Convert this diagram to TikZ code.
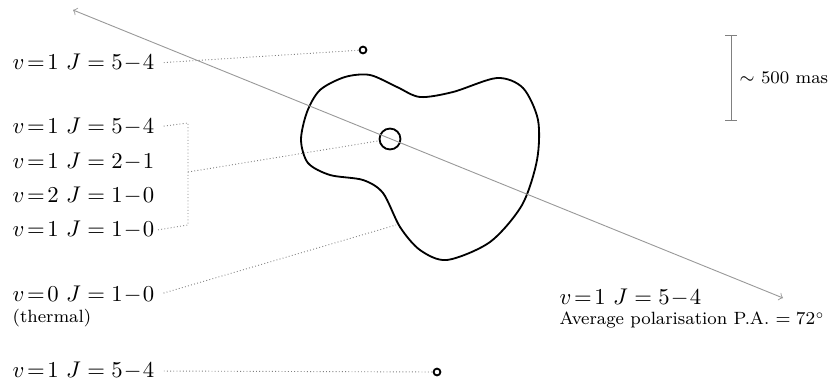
\documentclass[tikz,border=0pt]{standalone}
\usetikzlibrary{positioning}

\begin{document}
\begin{tikzpicture}[x=0.44pt, y=-0.44pt,
    trans/.style={anchor=west, inner sep=1pt},
    note/.style={anchor=north west, inner sep=1pt, font=\fontsize{7.8}{9}\selectfont},
    link/.style={draw=gray, densely dotted, shorten <=3pt},
    spot/.style={draw, circle, thick, inner sep=0pt, minimum size=3pt},
    axis/.style={draw=gray!80, <->}
]
    \useasboundingbox (0,0) rectangle (832,385);

    % masing core and envelope
    \node[draw, circle, thick, inner sep=0pt, minimum size=9.2pt] (core) at (390,139) {};
    \draw[thick] plot[smooth cycle] coordinates {(301,140) (307,112) (320,90) (345,77) (370,75)
        (397,87) (420,97) (453,92) (497,78) (523,88) (538,120) (537,160) (522,205) (490,242)
        (447,260) (420,250) (400,227) (383,193) (363,180) (330,175) (308,163)};
    \coordinate (envSW) at (396,225);

    % polarisation axis
    \coordinate (paNW) at (73,10);
    \coordinate (paSE) at (783,298);
    \draw[axis] (paNW) -- (paSE);

    % scale bar
    \coordinate (barTop) at (731,35);
    \coordinate (barBot) at (731,121);
    \draw[gray, |-|] (barTop) -- (barBot);
    \node[note, anchor=west] (scale) at (737,78) {$\sim$ 500 mas};

    % spots
    \node[spot] (spotNE) at (363,50) {};
    \node[spot] (spotS) at (437,372) {};

    % line labels
    \node[trans] (vtop) at (10,63) {$v\!=\!1\ J=5\!-\!4$};
    \node[trans] (gA) at (10,127) {$v\!=\!1\ J=5\!-\!4$};
    \node[trans] (gB) at (10,162) {$v\!=\!1\ J=2\!-\!1$};
    \node[trans] (gC) at (10,196) {$v\!=\!2\ J=1\!-\!0$};
    \node[trans] (gD) at (10,230) {$v\!=\!1\ J=1\!-\!0$};
    \node[trans] (vzero) at (10,295) {$v\!=\!0\ J=1\!-\!0$};
    \node[note] (thermal) at (vzero.south west) {(thermal)};
    \node[trans] (vbot) at (10,371) {$v\!=\!1\ J=5\!-\!4$};
    \node[trans] (vpa) at (557,298) {$v\!=\!1\ J=5\!-\!4$};
    \node[note] (pa) at (vpa.south west) {Average polarisation P.A. $=72^\circ$};

    % connectors
    \coordinate (brTop) at (188,123);
    \coordinate (brBot) at (188,225);
    \coordinate (brMid) at (188,172);
    \draw[link] (vtop.east) -- (spotNE);
    \draw[link] (gA.east) -- (brTop) -- (brBot) -- (gD.east);
    \draw[link, shorten <=0pt] (brMid) -- (core);
    \draw[link] (vzero.east) -- (envSW);
    \draw[link] (vbot.east) -- (spotS);

\end{tikzpicture}
\end{document}
